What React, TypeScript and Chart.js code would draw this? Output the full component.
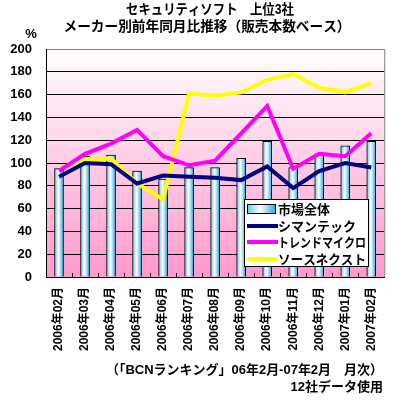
import React, { useEffect, useRef } from 'react';
import { Chart, registerables } from 'chart.js';

Chart.register(...registerables);

const categories = ['2006年02月', '2006年03月', '2006年04月', '2006年05月', '2006年06月', '2006年07月', '2006年08月', '2006年09月', '2006年10月', '2006年11月', '2006年12月', '2007年01月', '2007年02月'];
const marketTotal = [95, 106, 107, 93, 86, 96, 96, 104, 119, 96, 108, 115, 119];
const symantec = [88, 100, 99, 82, 89, 88, 87, 85, 97, 78, 93, 100, 96];
const trendMicro = [93, 108, 117, 129, 106, 98, 102, 126, 150, 95, 108, 106, 126];
const sourceNext = [95, 103, 104, 82, 68, 161, 159, 162, 173, 178, 166, 162, 170];
const seriesNames = ['市場全体', 'シマンテック', 'トレンドマイクロ', 'ソースネクスト'];
const yMin = 0;
const yMax = 200;
const yStep = 20;
const titleLines = ['セキュリティソフト　上位3社', 'メーカー別前年同月比推移（販売本数ベース）'];
const yUnit = '%';
const footerLines = ['（「BCNランキング」06年2月-07年2月　月次）', '12社データ使用'];

const FONT = "'Liberation Sans', 'Noto Sans CJK JP', sans-serif";

function barGradient(ctx: CanvasRenderingContext2D, x0: number, x1: number) {
  const g = ctx.createLinearGradient(x0, 0, x1, 0);
  g.addColorStop(0, '#5cc8f0');
  g.addColorStop(0.45, '#ffffff');
  g.addColorStop(1, '#2aa8dc');
  return g;
}

const decorPlugin = {
  id: 'decor',
  beforeDraw(chart: any) {
    const { ctx, chartArea } = chart;
    const g = ctx.createLinearGradient(0, chartArea.top, 0, chartArea.bottom);
    g.addColorStop(0, '#ffffff');
    g.addColorStop(1, '#ff99cc');
    ctx.save();
    ctx.fillStyle = g;
    ctx.fillRect(chartArea.left, chartArea.top, chartArea.right - chartArea.left, chartArea.bottom - chartArea.top);
    ctx.restore();
  },
  afterDraw(chart: any) {
    const { ctx, chartArea } = chart;
    ctx.save();
    ctx.strokeStyle = '#808080';
    ctx.lineWidth = 1;
    ctx.beginPath();
    ctx.moveTo(chartArea.right + 0.5, chartArea.top);
    ctx.lineTo(chartArea.right + 0.5, chartArea.bottom);
    ctx.stroke();
    const xs = chart.scales.x;
    ctx.strokeStyle = '#000000';
    ctx.beginPath();
    for (let i = 1; i < categories.length; i++) {
      const px = Math.round((xs.getPixelForValue(i - 1) + xs.getPixelForValue(i)) / 2) + 0.5;
      ctx.moveTo(px, chartArea.bottom);
      ctx.lineTo(px, chartArea.bottom - 4);
    }
    ctx.stroke();

    ctx.fillStyle = '#000';
    ctx.textBaseline = 'middle';
    ctx.textAlign = 'center';
    ctx.font = `bold 14px ${FONT}`;
    ctx.fillText(titleLines[0], 210, 10, 168);
    ctx.fillText(titleLines[1], 207, 27, 287);
    ctx.font = `bold 13px ${FONT}`;
    ctx.fillText(yUnit, 31, 34);

    ctx.textAlign = 'right';
    ctx.font = `bold 13px ${FONT}`;
    ctx.fillText(footerLines[0], 383, 370, 277);
    ctx.fillText(footerLines[1], 383, 387, 104);

    const lx = 244, ly = 199, lw = 125, lh = 68;
    ctx.fillStyle = '#ffffff';
    ctx.fillRect(lx, ly, lw, lh);
    ctx.strokeStyle = '#000';
    ctx.lineWidth = 1;
    ctx.strokeRect(lx + 0.5, ly + 0.5, lw - 1, lh - 1);
    const rows = [209, 226, 242, 259];
    const colors = ['', '#000080', '#ff00ff', '#ffff00'];
    ctx.textAlign = 'left';
    ctx.font = `bold 13px ${FONT}`;
    rows.forEach((ry, i) => {
      if (i === 0) {
        ctx.fillStyle = barGradient(ctx, 247, 276);
        ctx.fillRect(247, ry - 5, 29, 10);
        ctx.strokeStyle = '#000';
        ctx.strokeRect(247.5, ry - 4.5, 28, 9);
      } else {
        ctx.strokeStyle = colors[i];
        ctx.lineWidth = 4;
        ctx.beginPath();
        ctx.moveTo(247, ry);
        ctx.lineTo(278, ry);
        ctx.stroke();
        ctx.lineWidth = 1;
      }
      ctx.fillStyle = '#000';
      ctx.fillText(seriesNames[i], 278, ry + 1, 88);
    });
    ctx.restore();
  },
};

export default function App() {
  const ref = useRef<HTMLCanvasElement>(null);
  useEffect(() => {
    const canvas = ref.current!;
    const chart = new Chart(canvas, {
      type: 'bar',
      data: {
        labels: categories,
        datasets: [
          {
            type: 'line',
            label: seriesNames[1],
            data: symantec,
            borderColor: '#000080',
            borderWidth: 4,
            pointRadius: 0,
            tension: 0,
            order: 1,
          } as any,
          {
            type: 'line',
            label: seriesNames[2],
            data: trendMicro,
            borderColor: '#ff00ff',
            borderWidth: 4,
            pointRadius: 0,
            tension: 0,
            order: 1,
          } as any,
          {
            type: 'line',
            label: seriesNames[3],
            data: sourceNext,
            borderColor: '#ffff00',
            borderWidth: 4,
            pointRadius: 0,
            tension: 0,
            order: 1,
          } as any,
          {
            type: 'bar',
            label: seriesNames[0],
            data: marketTotal,
            barThickness: 9,
            borderColor: '#000000',
            borderWidth: 1,
            order: 2,
            backgroundColor: (c: any) => {
              const chart = c.chart;
              const xs = chart.scales && chart.scales.x;
              if (!xs || c.type !== 'data' || !chart.ctx) return '#9ddcf5';
              const cx = xs.getPixelForValue(c.dataIndex);
              if (!Number.isFinite(cx)) return '#9ddcf5';
              return barGradient(chart.ctx, cx - 4.5, cx + 4.5);
            },
          } as any,
        ],
      },
      options: {
        responsive: false,
        animation: false,
        devicePixelRatio: 1,
        layout: { padding: { top: 49, right: 9, left: 0, bottom: 0 } },
        plugins: {
          legend: { display: false },
          title: { display: false },
          tooltip: { enabled: false },
        },
        scales: {
          x: {
            grid: { display: false, drawTicks: false },
            border: { color: '#000', width: 1 },
            ticks: {
              autoSkip: false,
              maxRotation: 90,
              minRotation: 90,
              padding: 10,
              color: '#000',
              font: { family: FONT, size: 12, weight: 'bold' },
            },
            afterFit: (s: any) => { s.height = 123; },
          },
          y: {
            min: yMin,
            max: yMax,
            ticks: {
              stepSize: yStep,
              padding: 14,
              color: '#000',
              font: { family: FONT, size: 13, weight: 'bold' },
            },
            grid: {
              drawTicks: false,
              color: (c: any) => (c.tick && c.tick.value === yMax ? '#808080' : '#000000'),
              lineWidth: 1,
            },
            border: { color: '#000', width: 1 },
            afterFit: (s: any) => { s.width = 46; },
          },
        },
      } as any,
      plugins: [decorPlugin],
    });
    return () => chart.destroy();
  }, []);
  return (
    <div style={{ position: 'absolute', left: 0, top: 0, width: 396, height: 400, background: '#fff' }}>
      <canvas ref={ref} width={396} height={400} style={{ display: 'block' }} />
    </div>
  );
}
